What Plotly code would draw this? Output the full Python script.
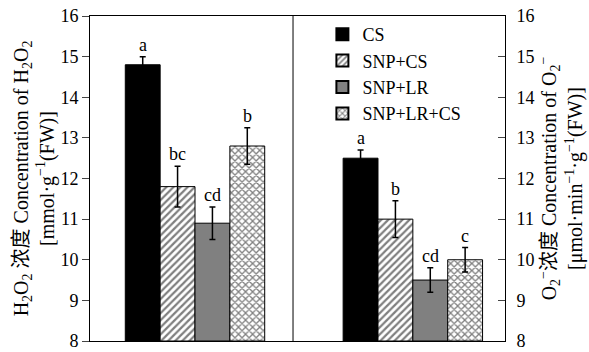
import plotly.graph_objects as go

groups = [0, 1]  # 0: H2O2 panel, 1: O2- panel
series = ["CS", "SNP+CS", "SNP+LR", "SNP+LR+CS"]
h2o2_vals = [14.8, 11.8, 10.9, 12.8]
h2o2_err = [0.2, 0.5, 0.4, 0.45]
h2o2_letters = ["a", "bc", "cd", "b"]
o2_vals = [12.5, 11.0, 9.5, 10.0]
o2_err = [0.2, 0.45, 0.3, 0.3]
o2_letters = ["a", "b", "cd", "c"]
y_ticks = [8, 9, 10, 11, 12, 13, 14, 15, 16]

FONT = "Liberation Serif, Times New Roman, Noto Sans CJK SC"
fills = ["black", "white", "#808080", "white"]
patterns = ["", "/", "", "x"]
bargap = 0.36
bw = (1 - bargap) / len(series)

fig = go.Figure()
for i, s in enumerate(series):
    fig.add_trace(go.Bar(
        x=groups, y=[h2o2_vals[i] - 8, o2_vals[i] - 8], base=8, name=s,
        marker=dict(color=fills[i], line=dict(color="black", width=1),
                    pattern=dict(shape=patterns[i], fgcolor="black", bgcolor="white",
                                 size=5, solidity=0.45)),
        error_y=dict(type="data", array=[h2o2_err[i], o2_err[i]], color="black",
                     thickness=1.5, width=3),
    ))
# invisible trace for right axis
fig.add_trace(go.Scatter(x=[0], y=[8], yaxis="y2", mode="markers",
                         marker=dict(opacity=0), showlegend=False, hoverinfo="skip"))

for i in range(len(series)):
    for g, vals, errs, letters in [(0, h2o2_vals, h2o2_err, h2o2_letters),
                                   (1, o2_vals, o2_err, o2_letters)]:
        fig.add_annotation(x=g + (i - 1.5) * bw, y=vals[i] + errs[i], text=letters[i],
                           showarrow=False, yanchor="bottom", yshift=0,
                           font=dict(family=FONT, size=18, color="black"))

fig.add_shape(type="line", xref="x", yref="paper", x0=0.45, x1=0.45, y0=0, y1=1,
              line=dict(color="black", width=1))

fig.update_layout(
    width=589, height=352, barmode="group", bargap=bargap, bargroupgap=0,
    plot_bgcolor="white", paper_bgcolor="white",
    margin=dict(l=90, r=84, t=16, b=11),
    font=dict(family=FONT, size=18, color="black"),
    xaxis=dict(range=[-0.482, 1.423], showticklabels=False, ticks="",
               showline=True, linecolor="black", linewidth=1, mirror=True,
               showgrid=False, zeroline=False, automargin=False),
    yaxis=dict(range=[8, 16], tickvals=y_ticks, ticks="outside", ticklen=7,
               showline=True, linecolor="black", linewidth=1, showgrid=False,
               zeroline=False, tickfont=dict(size=18), automargin=False,
               ticklabeloverflow="allow",
               title=dict(text="H<sub>2</sub>O<sub>2</sub> 浓度 Concentration of H<sub>2</sub>O<sub>2</sub><br>[mmol·g<sup>−1</sup>(FW)]",
                          font=dict(size=20), standoff=0)),
    yaxis2=dict(range=[8, 16], tickvals=y_ticks, ticks="inside", ticklen=7,
                overlaying="y", side="right", showline=True, linecolor="black",
                linewidth=1, showgrid=False, zeroline=False, tickfont=dict(size=18),
                automargin=False, ticklabelstandoff=7, ticklabeloverflow="allow",
                title=dict(text="O<sub>2</sub><sup>−</sup>浓度 Concentration of O<sub>2</sub><sup>−</sup><br>[μmol·min<sup>−1</sup>·g<sup>−1</sup>(FW)]",
                           font=dict(size=20), standoff=8)),
    legend=dict(x=0.56, y=1.0, xanchor="left", yanchor="top", bgcolor="rgba(0,0,0,0)",
                font=dict(size=18), tracegroupgap=0, itemsizing="constant",
                itemwidth=30),
    showlegend=True,
)

fig.write_html("out.html", config={"displayModeBar": False},
               post_script="document.body.style.margin='0';")
